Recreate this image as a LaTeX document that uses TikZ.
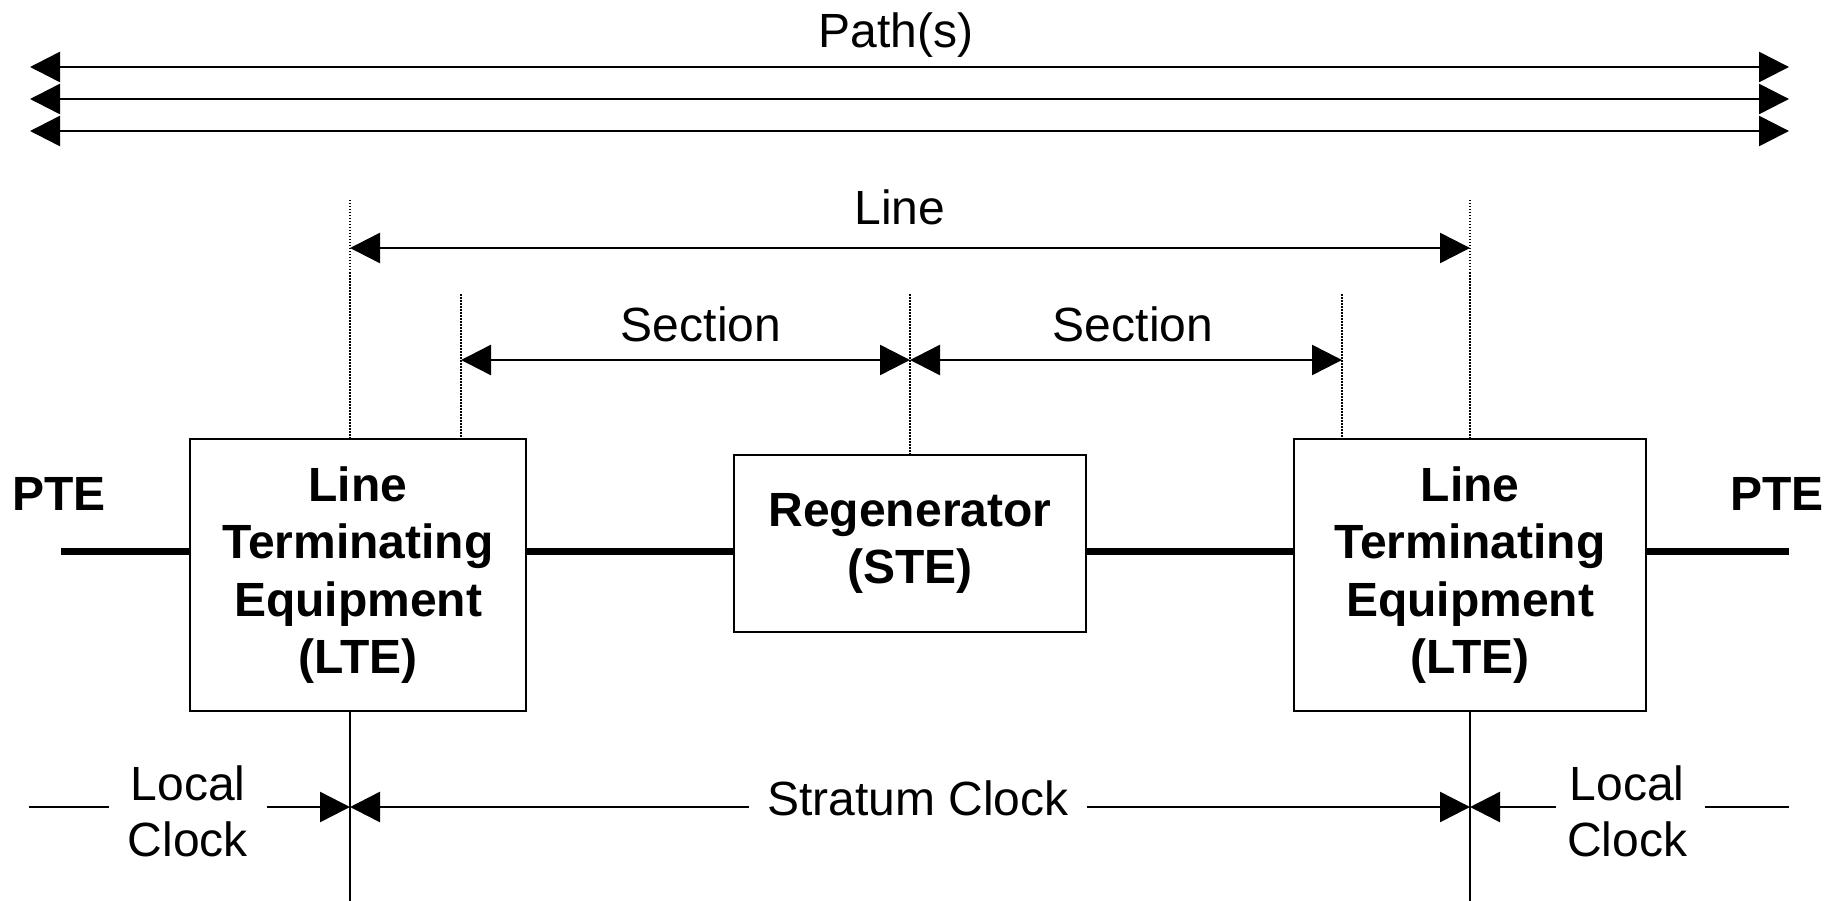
\documentclass[tikz,border=0pt]{standalone}
\usepackage{fontspec}
\setmainfont{Liberation Sans}
\usetikzlibrary{arrows.meta}
\tikzset{
  tip/.style={-{Triangle[length=30pt,width=30pt]}},
  dtip/.style={{Triangle[length=30pt,width=30pt]}-{Triangle[length=30pt,width=30pt]}},
  conn/.style={line width=2.5pt},
  thickline/.style={line width=7pt},
  guide/.style={line width=1.5pt, dash pattern=on 1.5pt off 1.5pt},
  box/.style={draw, line width=2pt, align=center, inner sep=0pt,
    font=\bfseries\fontsize{48}{57.5}\selectfont},
  lbl/.style={align=center, inner sep=0pt, font=\fontsize{48}{56}\selectfont},
  blbl/.style={align=center, inner sep=0pt, font=\bfseries\fontsize{48}{56}\selectfont}
}
\begin{document}
\begin{tikzpicture}[x=1pt,y=-1pt]
\useasboundingbox (0,0) rectangle (1841,901);
% Paths
\node[lbl] (path) at (896,35) {Path(s)};
\foreach \yy/\n in {67/a,99/b,131/c}{
  \coordinate (pl\n) at (30,\yy);
  \coordinate (pr\n) at (1789,\yy);
  \draw[conn,dtip] (pl\n) -- (pr\n);
}
% Boxes
\node[box, minimum width=336pt, minimum height=272pt] (lteL) at (358,575) {Line\\Terminating\\Equipment\\(LTE)};
\node[box, minimum width=352pt, minimum height=177pt] (reg) at (910,543.5) {Regenerator\\(STE)};
\node[box, minimum width=352pt, minimum height=272pt] (lteR) at (1470,575) {Line\\Terminating\\Equipment\\(LTE)};
% PTE labels
\node[blbl] (pteL) at (59,494) {PTE};
\node[blbl] (pteR) at (1777,494) {PTE};
% Thick line
\coordinate (tL) at (61,551);
\coordinate (tR) at (1789,551);
\draw[thickline] (tL) -- (tL -| lteL.west);
\draw[thickline] (tL -| lteL.east) -- (tL -| reg.west);
\draw[thickline] (tL -| reg.east) -- (tL -| lteR.west);
\draw[thickline] (tL -| lteR.east) -- (tR);
% Guides
\coordinate (g1) at (350,200);
\coordinate (g2) at (461,294);
\coordinate (g3) at (910,294);
\coordinate (g4) at (1342,294);
\coordinate (g5) at (1470,200);
\draw[guide] (g1) -- (g1 |- lteL.north);
\draw[guide] (g2) -- (g2 |- lteL.north);
\draw[guide] (g3) -- (g3 |- reg.north);
\draw[guide] (g4) -- (g4 |- lteR.north);
\draw[guide] (g5) -- (g5 |- lteR.north);
% Line arrow
\node[lbl] (linelbl) at (900,207) {Line};
\coordinate (la) at (350,248);
\coordinate (lb) at (1470,248);
\draw[conn,dtip] (la) -- (lb);
% Section arrows
\node[lbl] (sec1) at (701,324) {Section};
\node[lbl] (sec2) at (1133,324) {Section};
\coordinate (sa) at (461,360);
\coordinate (sb) at (910,360);
\coordinate (sc) at (1342,360);
\draw[conn,dtip] (sa) -- (sb);
\draw[conn,dtip] (sb) -- (sc);
% Vertical solid lines
\coordinate (v1) at (350,901);
\coordinate (v2) at (1470,901);
\draw[line width=2pt] (v1 |- lteL.south) -- (v1);
\draw[line width=2pt] (v2 |- lteR.south) -- (v2);
% Clock line
\coordinate (c0) at (29,807);
\coordinate (c1) at (109,807);
\coordinate (c2) at (267,807);
\coordinate (cx1) at (350,807);
\coordinate (c3) at (749,807);
\coordinate (c4) at (1087,807);
\coordinate (cx2) at (1470,807);
\coordinate (c5) at (1556,807);
\coordinate (c6) at (1705,807);
\coordinate (c7) at (1789,807);
\node[lbl] (lc1) at (188,811) {Local\\Clock};
\node[lbl] (stratum) at (918,798) {Stratum Clock};
\node[lbl] (lc2) at (1627,811) {Local\\Clock};
\draw[conn] (c0) -- (c1);
\draw[conn,tip] (c2) -- (cx1);
\draw[conn,tip] (c3) -- (cx1);
\draw[conn,tip] (c4) -- (cx2);
\draw[conn,tip] (c5) -- (cx2);
\draw[conn] (c6) -- (c7);
\end{tikzpicture}
\end{document}
